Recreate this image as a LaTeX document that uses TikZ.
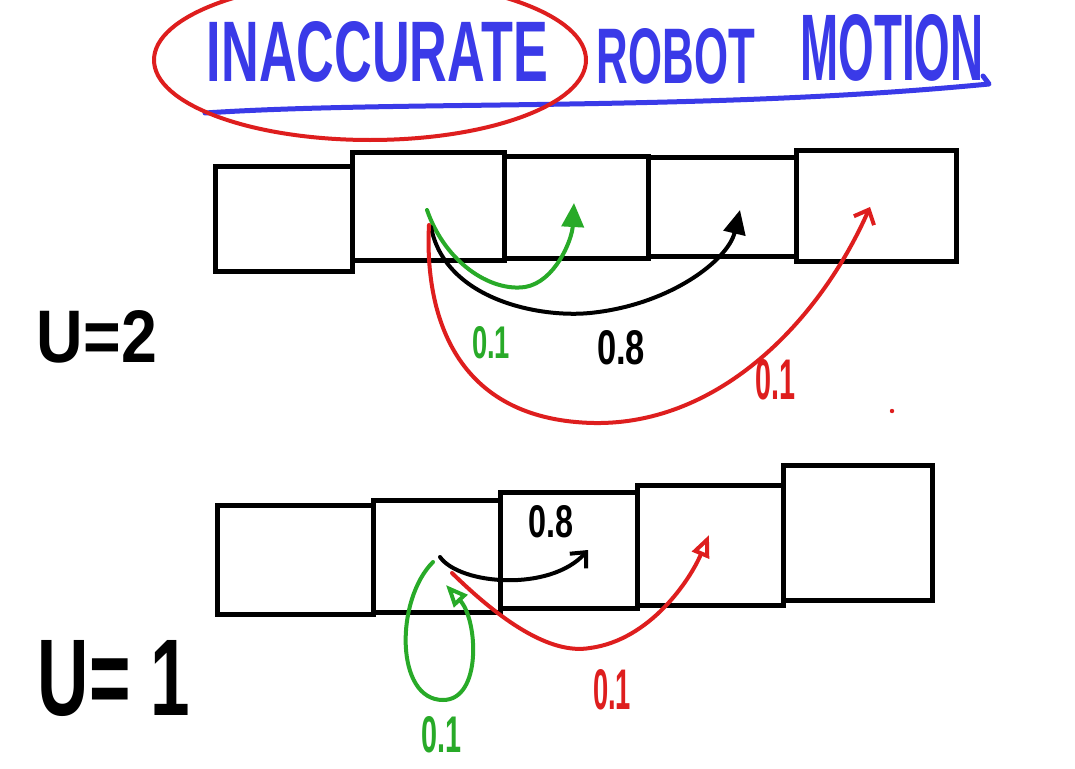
\documentclass[tikz,border=0pt]{standalone}
\usepackage{fontspec}
\setmainfont{Liberation Sans}
\usetikzlibrary{arrows.meta}
\definecolor{penblue}{RGB}{58,58,232}
\definecolor{penred}{RGB}{222,30,30}
\definecolor{pengreen}{RGB}{40,170,40}
\newcommand\hwtext[3]{\resizebox{#1pt}{#2pt}{\bfseries #3}}
\tikzset{
  cell/.style={draw=black, line width=5pt, inner sep=0pt, outer sep=0pt},
  lbl/.style={inner sep=0pt},
  pen/.style={line width=4pt, line cap=round, line join=round},
  filltip/.style={-{Triangle[length=24pt,width=22pt]}},
  opentip/.style={-{Triangle[open,length=22pt,width=18pt,line width=4pt]}},
  barbtip/.style={-{Straight Barb[length=12pt,width=22pt,line width=4pt]}}
}
\begin{document}
\begin{tikzpicture}[x=1pt,y=-1pt]
\useasboundingbox (0,0) rectangle (1075,768);
\fill[white] (0,0) rectangle (1075,768);

% title
\node[lbl, text=penblue] (tA) at (377.5,52) {\hwtext{341}{60}{INACCURATE}};
\node[lbl, text=penblue] (tB) at (676,56) {\hwtext{158}{55}{ROBOT}};
\node[lbl, text=penblue] (tC) at (892,48) {\hwtext{183}{66}{MOTION}};
\coordinate (ul1) at (205,113);
\coordinate (ul2) at (989,84);
\draw[pen, penblue, line width=5pt] (ul1) .. controls (400,100) and (700,112) .. (ul2) -- ++(-6,-8);
\draw[pen, penred] (370,60) ellipse [x radius=216pt, y radius=80pt];

% top row
\node[cell, minimum width=137pt, minimum height=105pt] (t1) at (283.5,218.5) {};
\node[cell, minimum width=152pt, minimum height=108pt] (t2) at (428,206) {};
\node[cell, minimum width=144pt, minimum height=102pt] (t3) at (576,207) {};
\node[cell, minimum width=148pt, minimum height=99pt] (t4) at (722,206.5) {};
\node[cell, minimum width=160pt, minimum height=111pt] (t5) at (876,205.5) {};

\coordinate (gs) at (427,210);
\coordinate (ks) at (431,227);
\coordinate (rs) at (429,225);
\coordinate (ge) at (574,203);
\coordinate (ke) at (740,210);
\coordinate (re) at (870,207);

\draw[pen, pengreen, filltip] (gs) .. controls (445,262) and (490,292) .. (525,287) .. controls (555,282) and (572,240) .. (ge);
\draw[pen, black, filltip] (ks) .. controls (445,300) and (540,318) .. (590,313) .. controls (670,305) and (728,260) .. (ke);
\draw[pen, penred, barbtip] (rs) .. controls (425,300) and (445,420) .. (594,423) .. controls (720,425) and (820,320) .. (re);
\fill[penred] (892,411) circle (2.2pt);

\node[lbl, text=pengreen] (l1) at (491,343) {\hwtext{38}{32}{0.1}};
\node[lbl, text=black] (l2) at (621,348) {\hwtext{48}{34}{0.8}};
\node[lbl, text=penred] (l3) at (775,380) {\hwtext{40}{40}{0.1}};
\node[lbl] (u2) at (97,337) {\hwtext{120}{52}{U=2}};

% bottom row
\node[cell, minimum width=156pt, minimum height=109pt] (b1) at (295,559.5) {};
\node[cell, minimum width=127pt, minimum height=112pt] (b2) at (436.5,556) {};
\node[cell, minimum width=137pt, minimum height=116pt] (b3) at (568.5,550) {};
\node[cell, minimum width=146pt, minimum height=120pt] (b4) at (710,545) {};
\node[cell, minimum width=149pt, minimum height=135pt] (b5) at (857.5,532.5) {};

\coordinate (bks) at (440,557);
\coordinate (bke) at (588,550);
\coordinate (bgs) at (433,562);
\coordinate (bge) at (446,585);
\coordinate (brs) at (452,573);
\coordinate (bre) at (709,535);

\draw[pen, black, barbtip] (bks) .. controls (460,585) and (550,592) .. (bke);
\draw[pen, pengreen, opentip] (bgs) .. controls (395,600) and (395,700) .. (443,700) .. controls (482,700) and (478,620) .. (bge);
\draw[pen, penred, opentip] (brs) .. controls (500,620) and (550,655) .. (590,648) .. controls (650,640) and (690,580) .. (bre);

\node[lbl, text=black] (m1) at (551,522) {\hwtext{45}{32}{0.8}};
\node[lbl, text=pengreen] (m2) at (441,735) {\hwtext{40}{36}{0.1}};
\node[lbl, text=penred] (m3) at (612,690) {\hwtext{38}{40}{0.1}};
\node[lbl] (u1) at (114,678) {\hwtext{152}{75}{U= 1}};
\end{tikzpicture}
\end{document}
